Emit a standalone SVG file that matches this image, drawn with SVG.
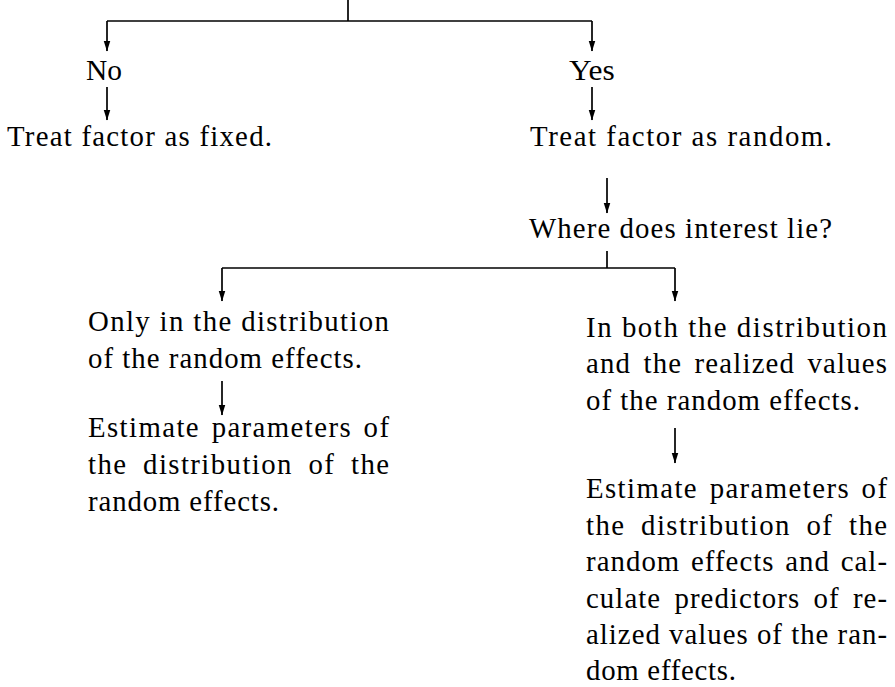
<svg xmlns="http://www.w3.org/2000/svg" width="895" height="687" viewBox="0 0 895 687">
<style>
text { font-family: "Liberation Serif", "Times New Roman", serif; font-size: 28.8px; fill: #000; }
.c { fill: none; stroke: #000; stroke-width: 1.7; }
.a { marker-end: url(#ah); }
</style>
<defs>
<marker id="ah" markerUnits="userSpaceOnUse" viewBox="0 -4 11 8" refX="10.5" refY="0" markerWidth="11" markerHeight="8" orient="auto">
<path d="M0,-3.4 L11,0 L0,3.4 Z" fill="#000"/>
</marker>
</defs>
<rect width="895" height="687" fill="#fff"/>
<g id="connectors">
<path class="c" d="M348,0 V21"/>
<path class="c" d="M107,21 H592"/>
<path class="c a" d="M107,21 V51"/>
<path class="c a" d="M592,21 V51"/>
<path class="c a" d="M107,87 V120"/>
<path class="c a" d="M592,87 V120"/>
<path class="c a" d="M607,178 V213"/>
<path class="c" d="M607,251 V268"/>
<path class="c" d="M222,268 H675"/>
<path class="c a" d="M222,268 V301"/>
<path class="c a" d="M675,268 V301"/>
<path class="c a" d="M222,381 V415"/>
<path class="c a" d="M675,428 V463"/>
</g>
<g id="n_no"><text x="86" y="80" textLength="36" lengthAdjust="spacingAndGlyphs">No</text></g>
<g id="n_yes"><text x="569" y="80" textLength="45.7" lengthAdjust="spacingAndGlyphs">Yes</text></g>
<g id="n_fixed"><text x="7" y="146" textLength="265">Treat factor as fixed.</text></g>
<g id="n_random"><text x="530" y="146" textLength="302">Treat factor as random.</text></g>
<g id="n_where"><text x="529" y="238" textLength="303">Where does interest lie?</text></g>
<g id="n_only">
<text x="88" y="331" textLength="301">Only in the distribution</text>
<text x="88" y="368" textLength="274">of the random effects.</text>
</g>
<g id="n_est1">
<text x="88" y="437" textLength="301" style="word-spacing:3px">Estimate parameters of</text>
<text x="88" y="474" textLength="301" style="word-spacing:7px">the distribution of the</text>
<text x="88" y="511" textLength="191">random effects.</text>
</g>
<g id="n_both">
<text x="586" y="337" textLength="301">In both the distribution</text>
<text x="586" y="373" textLength="301" style="word-spacing:4px">and the realized values</text>
<text x="586" y="410" textLength="274">of the random effects.</text>
</g>
<g id="n_est2">
<text x="586" y="498" textLength="301" style="word-spacing:3px">Estimate parameters of</text>
<text x="586" y="534.5" textLength="301" style="word-spacing:7px">the distribution of the</text>
<text x="586" y="571" textLength="301" style="word-spacing:2.4px">random effects and cal-</text>
<text x="586" y="607.5" textLength="301" style="word-spacing:5px">culate predictors of re-</text>
<text x="586" y="644" textLength="301">alized values of the ran-</text>
<text x="586" y="680" textLength="150">dom effects.</text>
</g>
</svg>
